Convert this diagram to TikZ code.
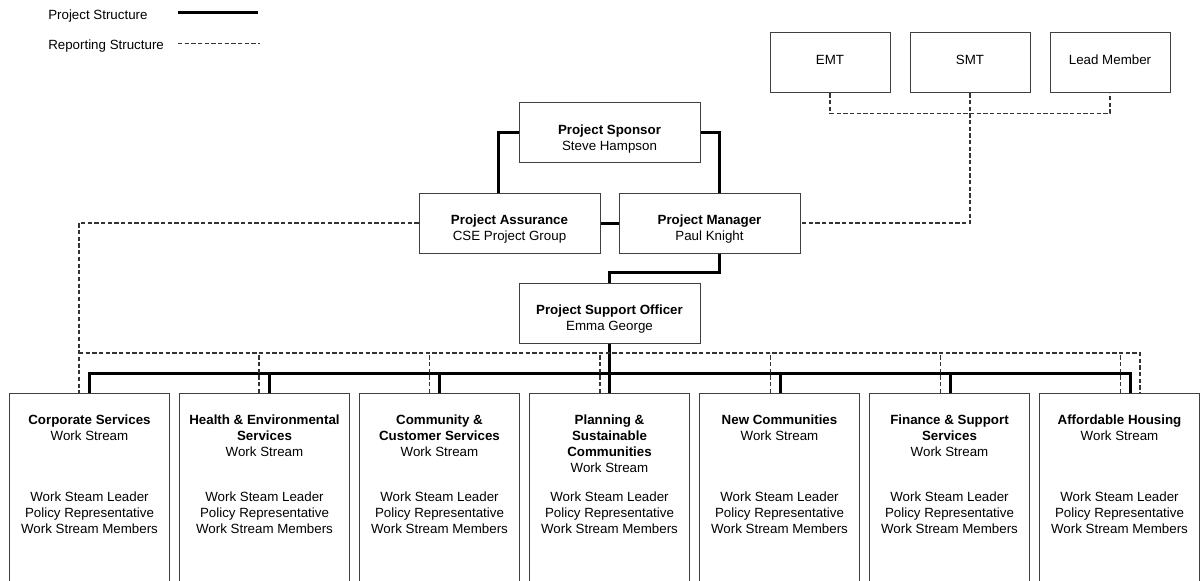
\documentclass[tikz,border=0pt]{standalone}
\usepackage{fontspec}
\setmainfont{Liberation Sans}
\usetikzlibrary{calc}
\begin{document}
\begin{tikzpicture}[x=0.75pt,y=-0.75pt,
  box/.style={draw=black!75,line width=0.75pt,inner sep=0pt,fill=white},
  topbox/.style={box,minimum width=135.75pt,minimum height=45pt},
  smallbox/.style={box,minimum width=90pt,minimum height=45pt},
  wsbox/.style={box,anchor=north west,minimum width=120pt,minimum height=155.25pt},
  txt/.style={font=\fontsize{10}{12}\selectfont,align=center,inner sep=0pt},
  solidc/.style={line width=2.25pt,black},
  dashc/.style={line width=0.8pt,black!80,dash pattern=on 3.2pt off 1.8pt}]
\useasboundingbox (0,0) rectangle (1202,581);

% legend
\node[txt,anchor=west] (lg1) at (48,16) {Project Structure};
\node[txt,anchor=west] (lg2) at (48,46) {Reporting Structure};
\coordinate (l1a) at (178,12.5);
\coordinate (l1b) at (258,12.5);
\coordinate (l2a) at (178,43.5);
\coordinate (l2b) at (260,43.5);
\draw[solidc] (l1a) -- (l1b);
\draw[dashc] (l2a) -- (l2b);

% top boxes
\node[smallbox] (emt) at (830,63) {};
\node[txt] (emtt) at (emt.center) [yshift=2.25pt] {EMT};
\node[smallbox] (smt) at (970,63) {};
\node[txt] (smtt) at (smt.center) [yshift=2.25pt] {SMT};
\node[smallbox] (lm) at (1110,63) {};
\node[txt] (lmt) at (lm.center) [yshift=2.25pt] {Lead Member};

\node[topbox] (ps) at (609.5,133) {};
\node[txt,anchor=north] (pst) at ($(ps.center)+(0,-8)$) {\textbf{Project Sponsor}\\Steve Hampson};
\node[topbox] (pa) at (509.5,223) {};
\node[txt,anchor=north] (pat) at ($(pa.center)+(0,-8)$) {\textbf{Project Assurance}\\CSE Project Group};
\node[topbox] (pm) at (709.5,223) {};
\node[txt,anchor=north] (pmt) at ($(pm.center)+(0,-8)$) {\textbf{Project Manager}\\Paul Knight};
\node[topbox] (pso) at (609.5,313) {};
\node[txt,anchor=north] (psot) at ($(pso.center)+(0,-8)$) {\textbf{Project Support Officer}\\Emma George};

% work stream boxes (clipped at the bottom edge)
\begin{scope}
\clip (0,0) rectangle (1202,581);
\node[wsbox] (ws1) at (9,393) {};
\node[wsbox,minimum width=127.5pt] (ws2) at (179,393) {};
\node[wsbox] (ws3) at (359,393) {};
\node[wsbox] (ws4) at (529,393) {};
\node[wsbox] (ws5) at (699,393) {};
\node[wsbox] (ws6) at (869,393) {};
\node[wsbox] (ws7) at (1039,393) {};
\end{scope}

\node[txt,anchor=north] (ws1t) at ($(ws1.north)+(0,22)$) {\textbf{Corporate Services}\\Work Stream};
\node[txt,anchor=north] (ws2t) at ($(ws2.north)+(0,22)$) {\textbf{Health \& Environmental}\\\textbf{Services}\\Work Stream};
\node[txt,anchor=north] (ws3t) at ($(ws3.north)+(0,22)$) {\textbf{Community \&}\\\textbf{Customer Services}\\Work Stream};
\node[txt,anchor=north] (ws4t) at ($(ws4.north)+(0,22)$) {\textbf{Planning \&}\\\textbf{Sustainable}\\\textbf{Communities}\\Work Stream};
\node[txt,anchor=north] (ws5t) at ($(ws5.north)+(0,22)$) {\textbf{New Communities}\\Work Stream};
\node[txt,anchor=north] (ws6t) at ($(ws6.north)+(0,22)$) {\textbf{Finance \& Support}\\\textbf{Services}\\Work Stream};
\node[txt,anchor=north] (ws7t) at ($(ws7.north)+(0,22)$) {\textbf{Affordable Housing}\\Work Stream};

\foreach \w in {ws1,ws2,ws3,ws4,ws5,ws6,ws7}{
  \node[txt,anchor=north] (\w b) at ($(\w.north)+(0,99)$) {Work Steam Leader\\Policy Representative\\Work Stream Members};
}

% project structure (solid)
\draw[solidc] (ps.west) -| ($(pa.north west)+(80,0)$);
\draw[solidc] (ps.east) -| ($(pm.north west)+(101,0)$);
\draw[solidc] (pa.east) -- (pm.west);
\draw[solidc] ($(pm.south west)+(101,0)$) -- ++(0,19) -| (pso.north);
\draw[solidc] (pso.south) -- ++(0,30);
\draw[solidc] ($(ws1.north west)+(80,0)$) -- ++(0,-20) -| ($(ws7.north west)+(91,0)$);
\draw[solidc] ($(ws2.north west)+(90,0)$) -- ++(0,-20);
\draw[solidc] (ws3.north) -- ++(0,-20);
\draw[solidc] (ws4.north) -- ++(0,-20);
\draw[solidc] ($(ws5.north)+(1,0)$) -- ++(0,-20);
\draw[solidc] ($(ws6.north)+(1,0)$) -- ++(0,-20);

% reporting structure (dashed)
\draw[dashc] (emt.south) -- ++(0,20) -| (lm.south);
\draw[dashc] (smt.south) |- (pm.east);
\draw[dashc] (pa.west) -| ($(ws1.north west)+(70,0)$);
\draw[dashc] ($(ws1.north west)+(70,-40)$) -| ($(ws7.north west)+(101,0)$);
\draw[dashc] ($(ws2.north west)+(80,0)$) -- ++(0,-40);
\draw[dashc] ($(ws3.north)+(-10,0)$) -- ++(0,-40);
\draw[dashc] ($(ws4.north)+(-9.5,0)$) -- ++(0,-40);
\draw[dashc] ($(ws5.north)+(-9,0)$) -- ++(0,-40);
\draw[dashc] ($(ws6.north)+(-9,0)$) -- ++(0,-40);
\draw[dashc] ($(ws7.north)+(1,0)$) -- ++(0,-40);
\end{tikzpicture}
\end{document}
